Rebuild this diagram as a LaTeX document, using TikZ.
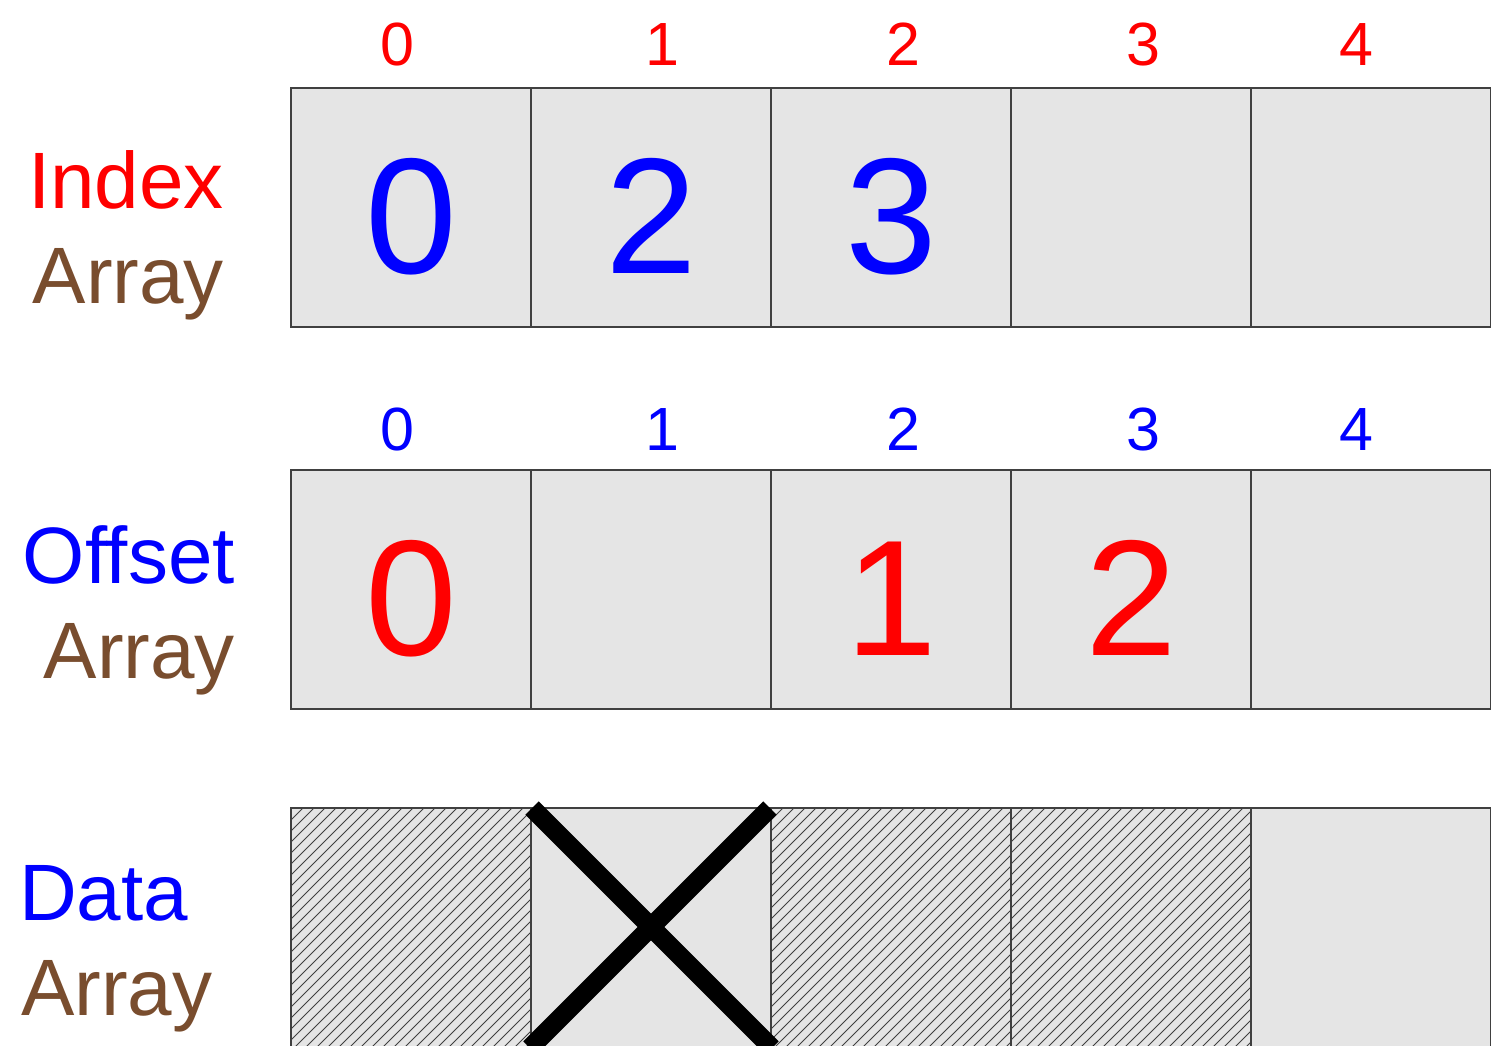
\documentclass[tikz,border=0pt]{standalone}
\usepackage{fontspec}
\setmainfont{Liberation Sans}
\usetikzlibrary{calc}
\definecolor{lblbrown}{RGB}{121,77,46}
\definecolor{cellfill}{RGB}{229,229,229}
\begin{document}
\begin{tikzpicture}[x=1pt,y=-1pt,
  cell/.style={draw=black!75, line width=1.2pt, fill=cellfill, minimum width=240pt, minimum height=239pt, inner sep=0pt, outer sep=0pt},
  big/.style={font=\fontsize{165}{165}\selectfont, anchor=base, inner sep=0pt},
  idx/.style={font=\fontsize{61}{61}\selectfont, anchor=base, inner sep=0pt},
  side/.style={font=\fontsize{80}{80}\selectfont, inner sep=0pt},
  hatch/.style={draw=black!75, line width=1pt},
  cross/.style={draw=black, line width=19pt}]
\useasboundingbox (0,0) rectangle (1491,1045);
% cells
\foreach \i/\x in {0/411,1/651,2/891,3/1131,4/1371}{
  \node[cell] (i\i) at (\x,207.5) {};
  \node[cell] (o\i) at (\x,589.5) {};
  \node[cell, minimum height=240pt] (d\i) at (\x,928) {};
}
% index labels
\foreach \i/\x in {0/397,1/662,2/903,3/1143,4/1356}{
  \node[idx, text=red] (il\i) at (\x,65) {\i};
  \node[idx, text=blue] (ol\i) at (\x,450) {\i};
}
% big digits
\node[big, text=blue] (v0) at (411,273) {0};
\node[big, text=blue] (v1) at (651,273) {2};
\node[big, text=blue] (v2) at (891,273) {3};
\node[big, text=red] (w0) at (411,655) {0};
\node[big, text=red] (w2) at (891,655) {1};
\node[big, text=red] (w3) at (1131,655) {2};
% side labels
\node[side, anchor=base east, text=red] (tIndex) at (224,208) {Index};
\node[side, anchor=base east, text=lblbrown] (tArr1) at (224,303) {Array};
\node[side, anchor=base east, text=blue] (tOffset) at (235,583) {Offset};
\node[side, anchor=base east, text=lblbrown] (tArr2) at (235,678) {Array};
\node[side, anchor=base west, text=blue] (tData) at (19,920) {Data};
\node[side, anchor=base west, text=lblbrown] (tArr3) at (21,1015) {Array};
% hatching
\foreach \c in {d0,d2,d3}{
  \begin{scope}
    \clip (\c.north west) rectangle (\c.south east);
    \foreach \k in {0,11,...,495}
      \draw[hatch] ($(\c.south west)+(\k-250,0)$) -- ++(250,-250);
  \end{scope}
  \draw[draw=black!75, line width=1.2pt] (\c.north west) rectangle (\c.south east);
}
% cross
\coordinate (xa) at (532,808);
\coordinate (xb) at (772,1048);
\coordinate (xc) at (770,808);
\coordinate (xd) at (530,1048);
\draw[cross] (xa) -- (xb);
\draw[cross] (xc) -- (xd);
\end{tikzpicture}
\end{document}
